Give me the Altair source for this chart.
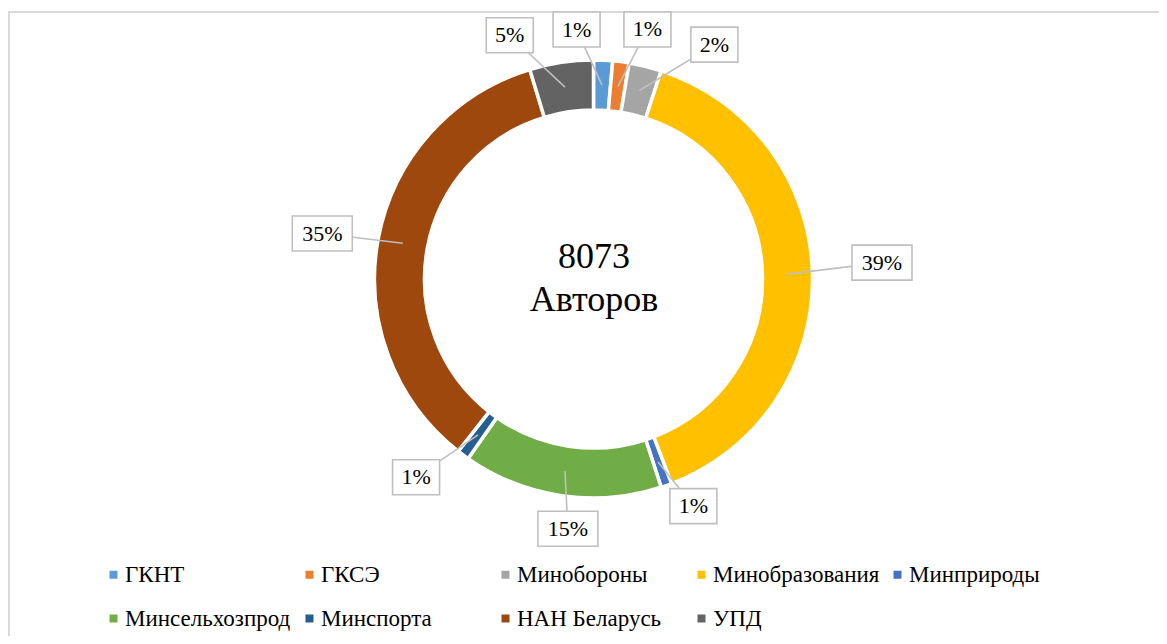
import altair as alt
import pandas as pd

# ---- data ----
CATEGORIES = ["ГКНТ", "ГКСЭ", "Минобороны", "Минобразования", "Минприроды",
              "Минсельхозпрод", "Минспорта", "НАН Беларусь", "УПД"]
SHARES = [1.4, 1.2, 2.4, 39.2, 0.8, 14.7, 0.9, 34.7, 4.7]   # percent of authors
COLORS = ["#5B9BD5", "#ED7D31", "#A5A5A5", "#FFC000", "#4472C4",
          "#70AD47", "#255E91", "#9E480E", "#636363"]
TOTAL_AUTHORS = 8073
CENTER_CAPTION = "Авторов"

# ---- label layout (callout nudges: degrees, pixels) ----
LABEL_NUDGE = {
    "ГКНТ": (-6.4, 0), "ГКСЭ": (5.0, 1), "Минобороны": (13.6, 2),
    "Минобразования": (-1.8, 11), "Минприроды": (-4.3, -12),
    "Минсельхозпрод": (-2.6, 0), "Минспорта": (5.3, -2),
    "НАН Беларусь": (-1.1, -2.6), "УПД": (-10.5, 0),
}

W, H = 1151, 628
CX, CY = 585.5, 271
R_OUT, R_IN = 219, 169
R_ANCHOR = 194
FONT = "Liberation Serif"
GRID = "#D9D9D9"
BOX = "#BFBFBF"

df = pd.DataFrame({
    "category": CATEGORIES,
    "share": SHARES,
    "order": list(range(len(CATEGORIES))),
    "label": [f"{round(v)}%" for v in SHARES],
    "dang": [LABEL_NUDGE[c][0] for c in CATEGORIES],
    "drad": [LABEL_NUDGE[c][1] for c in CATEGORIES],
})

xs = alt.Scale(domain=[0, W], nice=False, zero=False)
ys = alt.Scale(domain=[0, H], nice=False, zero=False, reverse=True)

base = alt.Chart(df)

ring = base.mark_arc(innerRadius=R_IN, outerRadius=R_OUT, stroke="white",
                     strokeWidth=3.5).encode(
    theta=alt.Theta("share:Q", stack=True),
    order=alt.Order("order:Q"),
    color=alt.Color("category:N",
                    scale=alt.Scale(domain=CATEGORIES, range=COLORS),
                    sort=CATEGORIES,
                    legend=alt.Legend(
                        title=None, orient="none", legendX=94, legendY=555,
                        direction="horizontal", columns=5, gridAlign="all",
                        symbolType="square", symbolSize=64, symbolStrokeWidth=0,
                        labelFont=FONT, labelFontSize=23, labelColor="black",
                        labelOffset=0, columnPadding=6, rowPadding=20,
                        padding=0, labelLimit=400)),
    x=alt.value(CX), y=alt.value(CY),
)

lab = base.transform_window(
    cum="sum(share)", sort=[alt.SortField("order")], frame=[None, 0]
).transform_joinaggregate(
    total="sum(share)"
).transform_calculate(
    mid="(datum.cum - datum.share/2)/datum.total*2*PI",
    la="datum.mid + datum.dang*PI/180",
    lr="248 + 30*abs(sin(datum.la)) + datum.drad",
    lx=f"{CX} + datum.lr*sin(datum.la)",
    ly=f"{CY} - datum.lr*cos(datum.la)",
    ax=f"{CX} + {R_ANCHOR}*sin(datum.mid)",
    ay=f"{CY} - {R_ANCHOR}*cos(datum.mid)",
    hw="10.5 + 6.5*length(datum.label)",
    bx1="datum.lx - datum.hw", bx2="datum.lx + datum.hw",
    by1="datum.ly - 17.5", by2="datum.ly + 17.5",
)

leaders = lab.mark_rule(color=BOX, strokeWidth=1.6).encode(
    x=alt.X("ax:Q", scale=xs, axis=None), y=alt.Y("ay:Q", scale=ys, axis=None),
    x2="lx:Q", y2="ly:Q")

boxes = lab.mark_rect(fill="white", stroke=BOX, strokeWidth=1.6).encode(
    x=alt.X("bx1:Q", scale=xs, axis=None), x2="bx2:Q",
    y=alt.Y("by1:Q", scale=ys, axis=None), y2="by2:Q")

texts = lab.mark_text(font=FONT, fontSize=22, color="black",
                      baseline="middle", align="center").encode(
    x=alt.X("lx:Q", scale=xs, axis=None), y=alt.Y("ly:Q", scale=ys, axis=None),
    text="label:N")

center = alt.Chart(alt.Data(values=[{"t": f"{TOTAL_AUTHORS}\n{CENTER_CAPTION}"}])).mark_text(
    font=FONT, fontSize=36, color="black", align="center", baseline="alphabetic",
    lineBreak="\n", lineHeight=43).encode(
    text="t:N", x=alt.value(CX + 0.5), y=alt.value(CY - 11))

frame_left = alt.Chart(alt.Data(values=[{}])).mark_rule(color=GRID, strokeWidth=2).encode(
    x=alt.value(1), y=alt.value(3), y2=alt.value(H))
frame_top = alt.Chart(alt.Data(values=[{}])).mark_rule(color=GRID, strokeWidth=2).encode(
    x=alt.value(0), x2=alt.value(W), y=alt.value(4))

chart = alt.layer(frame_left, frame_top, ring, leaders, boxes, texts, center).properties(
    width=W, height=H, autosize=alt.AutoSizeParams(type="none"), padding=0,
    background="white"
).configure_view(stroke=None)

chart.save("out.html", embed_options={"renderer": "svg", "actions": False})
